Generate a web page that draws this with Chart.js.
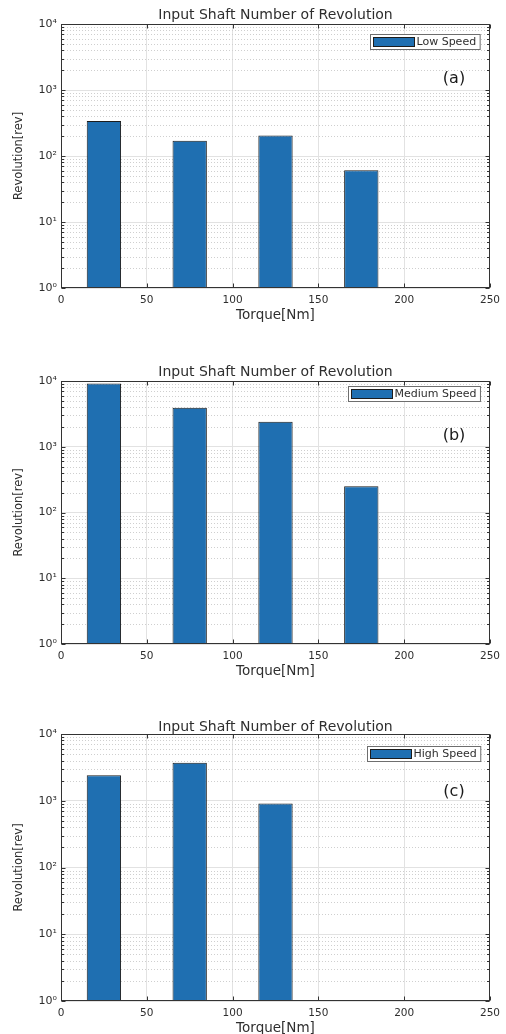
<!DOCTYPE html>
<html>
<head>
<meta charset="utf-8">
<script src="https://cdn.jsdelivr.net/npm/chart.js@4"></script>
<style>
  html, body { margin: 0; padding: 0; background: #fff; width: 506px; height: 1034px; overflow: hidden; }
  canvas { position: absolute; left: 0; }
</style>
</head>
<body>
<canvas id="panelA" width="506" height="340" style="top:0px"></canvas>
<canvas id="panelB" width="506" height="360" style="top:340px"></canvas>
<canvas id="panelC" width="506" height="334" style="top:700px"></canvas>
<script>
// Torque bins (bar centres, Nm) and revolution counts per speed range
const torque = [25, 75, 125, 175];
const lowSpeed = [340, 170, 205, 61];
const mediumSpeed = [9200, 3930, 2400, 250];
const highSpeed = [2400, 3700, 910];

const seriesNames = ['Low Speed', 'Medium Speed', 'High Speed'];
const panelTags = ['(a)', '(b)', '(c)'];

// Axis ticks
const xTicks = [0, 50, 100, 150, 200, 250];
const yTicks = [1, 10, 100, 1000, 10000];
const yTickLabels = ['10⁰', '10¹', '10²', '10³', '10⁴'];
const minorSteps = [2, 3, 4, 5, 6, 7, 8, 9];

const chartTitle = 'Input Shaft Number of Revolution';
const xTitle = 'Torque[Nm]';
const yTitle = 'Revolution[rev]';

// Styling
const FONT = 'DejaVu Sans';
const BAR_FILL = '#1f6fb1';
const BAR_EDGE = '#1c1c1c';
const AXIS = '#333333';
const TEXT = '#2e2e2e';
const MAJOR_GRID = '#e2e2e2';
const MINOR_GRID = '#cfcfcf';

Chart.defaults.font.family = FONT;

// Per-panel canvas geometry (plot area top/bottom inside each canvas)
const layouts = [
  { id: 'panelA', height: 340, areaTop: 24, areaBottom: 288, xTitlePad: 17.5, legendTop: 10, tagY: 55, titleGap: 5 },
  { id: 'panelB', height: 360, areaTop: 41, areaBottom: 304, xTitlePad: 21.5, legendTop: 5, tagY: 55, titleGap: 5.5 },
  { id: 'panelC', height: 334, areaTop: 34, areaBottom: 301, xTitlePad: -1.5, legendTop: 12, tagY: 58, titleGap: 3.5 }
];
const panelValues = [lowSpeed, mediumSpeed, highSpeed];

// Axes box, inward tick marks, minor grid, title, tag and legend
const framePlugin = {
  id: 'frame',
  beforeDatasetsDraw(chart) {
    const { ctx, chartArea: a, scales: { y } } = chart;
    ctx.save();
    ctx.strokeStyle = MINOR_GRID;
    ctx.lineWidth = 1;
    ctx.setLineDash([1, 2]);
    for (let d = 0; d < yTicks.length - 1; d++) {
      for (const m of minorSteps) {
        const py = Math.round(y.getPixelForValue(m * yTicks[d])) + 0.5;
        ctx.beginPath();
        ctx.moveTo(a.left, py);
        ctx.lineTo(a.right, py);
        ctx.stroke();
      }
    }
    ctx.restore();
  },
  afterDatasetsDraw(chart) {
    const { ctx, chartArea: a, scales: { x, y } } = chart;
    const L = Math.round(a.left) + 0.5, R = Math.round(a.right) - 0.5;
    const T = Math.round(a.top) + 0.5, B = Math.round(a.bottom) - 0.5;
    ctx.save();
    ctx.strokeStyle = AXIS;
    ctx.lineWidth = 1;
    ctx.beginPath();
    // x ticks on bottom and top, pointing inward
    for (const v of xTicks) {
      const px = Math.round(x.getPixelForValue(v)) + 0.5;
      ctx.moveTo(px, B); ctx.lineTo(px, B - 4);
      ctx.moveTo(px, T); ctx.lineTo(px, T + 4);
    }
    // y major and minor ticks on left and right
    for (let d = 0; d < yTicks.length; d++) {
      const py = Math.round(y.getPixelForValue(yTicks[d])) + 0.5;
      ctx.moveTo(L, py); ctx.lineTo(L + 4, py);
      ctx.moveTo(R, py); ctx.lineTo(R - 4, py);
      if (d === yTicks.length - 1) break;
      for (const m of minorSteps) {
        const pm = Math.round(y.getPixelForValue(m * yTicks[d])) + 0.5;
        ctx.moveTo(L, pm); ctx.lineTo(L + 2.5, pm);
        ctx.moveTo(R, pm); ctx.lineTo(R - 2.5, pm);
      }
    }
    ctx.stroke();
    ctx.strokeRect(L, T, R - L, B - T);
    ctx.restore();
  },
  afterDraw(chart, args, opts) {
    const { ctx, chartArea: a } = chart;
    ctx.save();
    // title
    ctx.fillStyle = TEXT;
    ctx.font = '14px "' + FONT + '"';
    ctx.textAlign = 'center';
    ctx.textBaseline = 'alphabetic';
    ctx.fillText(chartTitle, (a.left + a.right) / 2, a.top - opts.titleGap);
    // panel tag
    ctx.font = '16px "' + FONT + '"';
    ctx.textBaseline = 'middle';
    ctx.fillStyle = '#1a1a1a';
    ctx.fillText(opts.tag, a.right - 36, a.top + opts.tagY);
    // legend
    ctx.font = '11px "' + FONT + '"';
    const tw = ctx.measureText(opts.name).width;
    const boxH = 15, swW = 41, swH = 9;
    const boxW = 3 + swW + 2 + tw + 4;
    const bx = Math.round(a.right - 10 - boxW) + 0.5;
    const by = Math.round(a.top + opts.legendTop) + 0.5;
    ctx.fillStyle = '#ffffff';
    ctx.fillRect(bx, by, boxW, boxH);
    ctx.strokeStyle = '#6e6e6e';
    ctx.lineWidth = 1;
    ctx.strokeRect(bx, by, boxW, boxH);
    ctx.fillStyle = BAR_FILL;
    ctx.fillRect(bx + 3, by + 3, swW, swH);
    ctx.strokeStyle = BAR_EDGE;
    ctx.strokeRect(bx + 3, by + 3, swW, swH);
    ctx.fillStyle = TEXT;
    ctx.textAlign = 'left';
    ctx.textBaseline = 'middle';
    ctx.fillText(opts.name, bx + 3 + swW + 2, by + boxH / 2 + 0.5);
    ctx.restore();
  }
};

layouts.forEach((lay, p) => {
  const values = panelValues[p];
  const points = values.map((v, i) => ({ x: torque[i], y: v }));
  new Chart(document.getElementById(lay.id), {
    type: 'bar',
    data: {
      datasets: [{
        label: seriesNames[p],
        data: points,
        backgroundColor: BAR_FILL,
        borderColor: BAR_EDGE,
        borderWidth: 1,
        borderSkipped: false,
        barPercentage: 0.4,
        categoryPercentage: 1.0
      }]
    },
    options: {
      responsive: false,
      animation: false,
      devicePixelRatio: 1,
      layout: { padding: { top: lay.areaTop, right: 10, left: 0, bottom: 0 } },
      plugins: {
        legend: { display: false },
        tooltip: { enabled: false },
        title: { display: false },
        frame: { name: seriesNames[p], tag: panelTags[p], legendTop: lay.legendTop, tagY: lay.tagY, titleGap: lay.titleGap }
      },
      scales: {
        x: {
          type: 'linear',
          min: 0,
          max: 250,
          offset: false,
          afterBuildTicks: s => { s.ticks = xTicks.map(v => ({ value: v })); },
          afterFit: s => { s.height = lay.height - lay.areaBottom; },
          grid: { offset: false, color: MAJOR_GRID, lineWidth: 1, drawTicks: false },
          border: { display: false },
          ticks: { color: TEXT, padding: 6, maxRotation: 0, autoSkip: false, font: { size: 10.5, lineHeight: 1.2 } },
          title: { display: true, text: xTitle, color: TEXT, font: { size: 13.5, lineHeight: 1 }, padding: { top: 0, bottom: lay.xTitlePad } }
        },
        y: {
          type: 'logarithmic',
          min: 1,
          max: 10000,
          afterBuildTicks: s => { s.ticks = yTicks.map(v => ({ value: v, major: true })); },
          afterFit: s => { s.width = 61; },
          grid: { color: MAJOR_GRID, lineWidth: 1, drawTicks: false },
          border: { display: false },
          ticks: { color: TEXT, padding: 4, autoSkip: false, font: { size: 11 }, callback: (v, i) => yTickLabels[i] },
          title: { display: true, text: yTitle, color: TEXT, font: { size: 11.5, lineHeight: 1.2 }, padding: { top: 12, bottom: 0 } }
        }
      }
    },
    plugins: [framePlugin]
  });
});
</script>
</body>
</html>
